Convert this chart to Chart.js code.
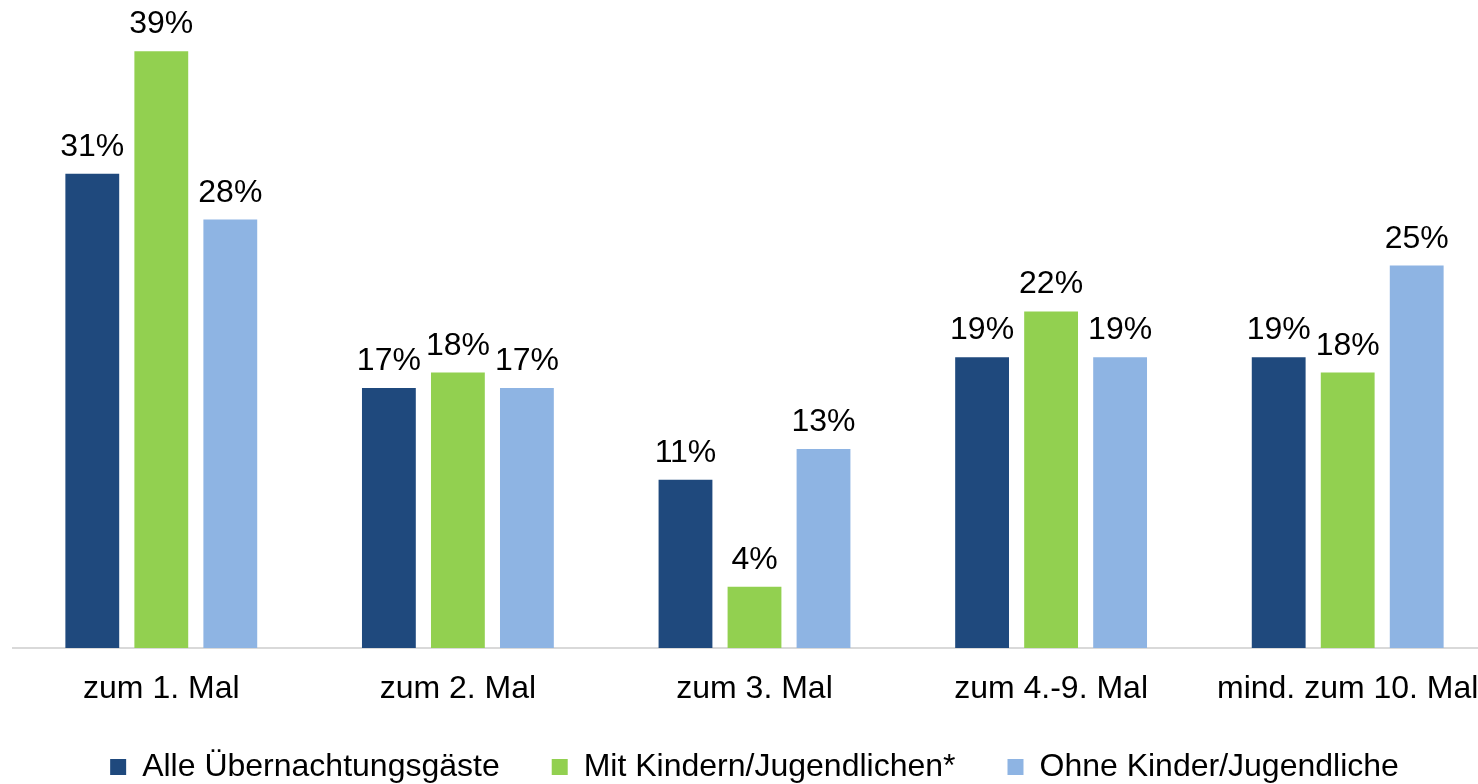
<!DOCTYPE html>
<html>
<head>
<meta charset="utf-8">
<script src="https://cdn.jsdelivr.net/npm/chart.js@4/dist/chart.umd.min.js"></script>
<style>
  html, body { margin: 0; padding: 0; background: #fff; overflow: hidden; }
  #wrap { width: 1496px; height: 784px; }
</style>
</head>
<body>
<div id="wrap"><canvas id="chart"></canvas></div>
<script>
// Daten
var kategorien = ["zum 1. Mal", "zum 2. Mal", "zum 3. Mal", "zum 4.-9. Mal", "mind. zum 10. Mal"];
var serien = ["Alle Übernachtungsgäste", "Mit Kindern/Jugendlichen*", "Ohne Kinder/Jugendliche"];
var alle = [31, 17, 11, 19, 19];
var mitKindern = [39, 18, 4, 22, 18];
var ohneKinder = [28, 17, 13, 19, 25];
var farben = ["#1F497D", "#92D050", "#8EB4E3"];

var schrift = "'Liberation Sans', Arial, sans-serif";

// Prozentwerte über den Balken
var wertePlugin = {
    id: "werte",
    afterDatasetsDraw: function(chart) {
        var ctx = chart.ctx;
        ctx.save();
        ctx.font = "32px " + schrift;
        ctx.fillStyle = "#000";
        ctx.textAlign = "center";
        ctx.textBaseline = "alphabetic";
        chart.data.datasets.forEach(function(ds, i) {
            chart.getDatasetMeta(i).data.forEach(function(bar, j) {
                ctx.fillText(ds.data[j] + "%", bar.x, bar.y - 18);
            });
        });
        ctx.restore();
    }
};

// Legende: feste Höhe, Oberkante etwas nach oben schieben
var legendenPlatz = {
    id: "legendenPlatz",
    beforeInit: function(chart) {
        var fitAlt = chart.legend.fit;
        chart.legend.fit = function() {
            fitAlt.call(this);
            this.height = 66;
        };
    },
    afterLayout: function(chart) {
        chart.legend.top -= 19;
        chart.legend.height += 19;
    }
};

var ctx = document.getElementById("chart").getContext("2d");
var chart = new Chart(ctx, {
    type: "bar",
    data: {
        labels: kategorien,
        datasets: [
            {label: serien[0], data: alle, backgroundColor: farben[0]},
            {label: serien[1], data: mitKindern, backgroundColor: farben[1]},
            {label: serien[2], data: ohneKinder, backgroundColor: farben[2]}
        ]
    },
    options: {
        responsive: true,
        maintainAspectRatio: false,
        animation: false,
        categoryPercentage: 0.698,
        barPercentage: 0.78,
        layout: {padding: {top: 36, left: 13, right: 0, bottom: 0}},
        plugins: {
            tooltip: {enabled: false},
            legend: {
                position: "bottom",
                labels: {
                    color: "#000",
                    font: {family: schrift, size: 32},
                    boxWidth: 16,
                    boxHeight: 16,
                    padding: 52
                }
            }
        },
        scales: {
            x: {
                grid: {display: false},
                border: {display: true, color: "#D9D9D9", width: 2},
                ticks: {color: "#000", font: {family: schrift, size: 32}, padding: 14, maxRotation: 0},
                afterFit: function(scale) { scale.height = 70; }
            },
            y: {
                display: false,
                min: 0,
                max: 40
            }
        }
    },
    plugins: [wertePlugin, legendenPlatz]
});
</script>
</body>
</html>
